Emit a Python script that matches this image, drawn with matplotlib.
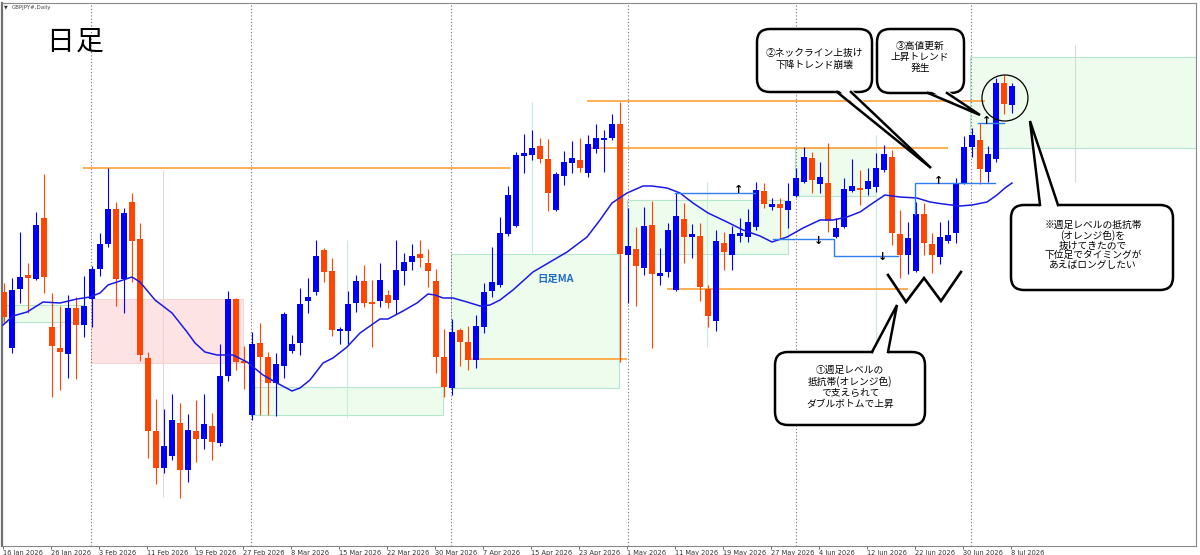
import matplotlib
matplotlib.use('Agg')
import matplotlib.pyplot as plt
import matplotlib.transforms as mtransforms
from matplotlib.patches import Rectangle, FancyBboxPatch, Polygon, Ellipse

plt.rcParams['font.family'] = ['Noto Sans CJK JP', 'DejaVu Sans']

# GBPJPY daily candles
tick_labels = ['16 Jan 2026', '26 Jan 2026', '3 Feb 2026', '11 Feb 2026', '19 Feb 2026',
               '27 Feb 2026', '8 Mar 2026', '15 Mar 2026', '22 Mar 2026', '30 Mar 2026',
               '7 Apr 2026', '15 Apr 2026', '23 Apr 2026', '1 May 2026', '11 May 2026',
               '19 May 2026', '27 May 2026', '4 Jun 2026', '12 Jun 2026', '22 Jun 2026',
               '30 Jun 2026', '8 Jul 2026']

opens = [207.08, 206.52, 207.11, 207.25, 207.21, 207.82, 206.73, 206.52, 206.46, 206.92,
         206.75, 207.01, 207.31, 207.56, 207.91, 207.21, 207.98, 207.61, 206.42, 205.69,
         205.32, 205.44, 205.77, 205.30, 205.69, 205.61, 205.74, 205.57, 206.24, 207.01,
         206.38, 205.85, 206.57, 206.43, 206.17, 206.34, 206.49, 206.57, 206.99, 207.08,
         207.50, 207.29, 206.69, 206.69, 206.97, 207.19, 206.98, 206.99, 207.05, 207.00,
         207.29, 207.38, 207.46, 207.37, 207.19, 206.43, 206.12, 206.70, 206.58, 206.40,
         206.73, 207.09, 207.15, 207.66, 207.74, 208.44, 208.45, 208.54, 208.41, 207.90,
         208.24, 208.37, 208.40, 208.27, 208.51, 208.60, 208.62, 208.76, 207.45, 207.51,
         207.32, 207.75, 207.24, 207.28, 207.10, 207.81, 207.63, 207.64, 207.11, 206.79,
         207.57, 207.45, 207.64, 207.63, 207.73, 208.09, 207.93, 207.96, 207.90, 208.04,
         208.18, 208.42, 208.16, 208.17, 207.63, 207.73, 208.09, 208.12, 208.11, 208.13,
         208.30, 208.43, 207.66, 207.45, 207.29, 207.86, 207.56, 207.43, 207.59, 207.67,
         208.17, 208.53, 208.60, 208.28, 208.41, 209.17, 208.95]
highs = [207.17, 207.22, 207.68, 207.37, 207.88, 208.26, 207.07, 206.94, 207.05, 207.03,
         207.24, 207.34, 207.67, 208.32, 207.98, 207.92, 208.07, 207.77, 206.48, 206.01,
         205.91, 206.06, 205.97, 205.86, 206.00, 206.06, 205.87, 206.56, 207.09, 207.02,
         206.54, 206.68, 206.77, 206.48, 206.47, 206.88, 206.65, 207.12, 207.22, 207.60,
         207.52, 207.42, 206.73, 207.09, 207.25, 207.35, 207.20, 207.37, 207.10, 207.60,
         207.47, 207.56, 207.60, 207.51, 207.31, 206.71, 206.81, 206.72, 206.74, 206.85,
         207.17, 207.53, 207.83, 208.14, 208.48, 208.66, 208.70, 208.62, 208.61, 208.28,
         208.49, 208.59, 208.62, 208.65, 208.76, 208.70, 208.86, 208.98, 207.92, 207.73,
         207.93, 207.99, 207.52, 207.77, 208.07, 207.97, 207.76, 207.77, 207.15, 207.70,
         207.68, 207.74, 207.82, 207.91, 208.18, 208.17, 208.02, 208.02, 208.17, 208.32,
         208.53, 208.48, 208.38, 208.57, 207.82, 208.22, 208.41, 208.30, 208.32, 208.47,
         208.55, 208.50, 207.90, 207.78, 207.98, 207.97, 207.67, 207.78, 207.80, 208.22,
         208.64, 208.72, 208.77, 208.54, 209.22, 209.25, 209.17]
lows = [206.78, 206.47, 206.97, 206.87, 207.20, 207.07, 206.03, 206.10, 206.22, 206.21,
        206.63, 206.73, 207.24, 207.53, 206.94, 206.87, 207.18, 206.39, 205.42, 205.16,
        205.27, 205.40, 205.02, 205.18, 205.38, 205.51, 205.40, 205.54, 206.19, 206.30,
        206.11, 205.80, 205.85, 205.85, 205.84, 206.22, 206.47, 206.45, 206.87, 207.05,
        207.18, 206.64, 206.56, 206.56, 206.88, 206.93, 206.53, 206.93, 206.92, 206.86,
        207.15, 207.30, 207.33, 207.13, 206.27, 206.03, 206.05, 206.34, 206.30, 206.32,
        206.67, 207.03, 207.13, 207.64, 207.73, 208.27, 208.40, 208.37, 207.89, 207.89,
        208.15, 208.27, 208.28, 208.23, 208.47, 208.28, 208.60, 206.38, 206.97, 206.94,
        207.25, 206.52, 207.15, 207.23, 207.09, 207.37, 207.42, 206.99, 206.73, 206.69,
        207.30, 207.30, 207.58, 207.58, 207.70, 207.92, 207.90, 207.61, 207.72, 208.03,
        208.17, 208.07, 208.07, 207.68, 207.62, 207.72, 208.08, 207.95, 208.05, 208.08,
        208.28, 207.55, 207.22, 207.26, 207.28, 207.45, 207.27, 207.36, 207.57, 207.57,
        208.16, 208.43, 208.16, 208.18, 208.38, 208.86, 208.87]
closes = [206.83, 207.10, 207.23, 207.22, 207.75, 207.23, 206.54, 206.48, 206.92, 206.75,
          206.94, 207.31, 207.56, 207.91, 207.21, 207.87, 207.59, 206.45, 205.69, 205.32,
          205.54, 205.80, 205.30, 205.70, 205.61, 205.76, 205.58, 206.24, 207.01, 206.38,
          206.37, 206.56, 206.43, 206.17, 206.36, 206.86, 206.56, 206.96, 207.03, 207.44,
          207.28, 206.70, 206.71, 206.96, 207.19, 206.97, 206.96, 207.20, 206.97, 207.30,
          207.38, 207.44, 207.42, 207.29, 206.43, 206.13, 206.68, 206.58, 206.40, 206.74,
          207.08, 207.18, 207.67, 208.05, 208.45, 208.47, 208.52, 208.41, 208.07, 208.26,
          208.38, 208.42, 208.32, 208.56, 208.62, 208.62, 208.76, 207.46, 207.54, 207.34,
          207.74, 207.26, 207.27, 207.70, 207.84, 207.63, 207.66, 207.13, 206.84, 207.59,
          207.48, 207.66, 207.67, 207.78, 208.10, 207.96, 207.96, 207.92, 207.99, 208.22,
          208.43, 208.20, 208.23, 207.79, 207.72, 208.11, 208.14, 208.10, 208.19, 208.32,
          208.46, 207.67, 207.45, 207.62, 207.86, 207.57, 207.45, 207.63, 207.65, 208.17,
          208.53, 208.65, 208.31, 208.46, 209.17, 208.96, 209.14]

# daily moving average, read at points along the line (bar position, price)
ma_pos = [-0.12, 1.12, 2.88, 4.88, 7.0, 9.12, 10.75, 12.0, 13.0, 14.88, 16.0, 17.0, 18.88,
          21.0, 22.88, 23.88, 25.12, 26.62, 28.62, 30.38, 32.38, 34.12, 36.0, 37.0, 38.25,
          39.88, 41.12, 42.88, 44.5, 47.0, 48.0, 49.88, 51.62, 53.0, 53.88, 54.88, 56.12,
          57.88, 59.5, 60.75, 62.0, 63.62, 66.12, 68.25, 70.38, 72.88, 74.5, 76.0, 77.88,
          79.88, 81.0, 82.88, 84.5, 86.12, 88.0, 90.38, 92.38, 94.5, 96.0, 97.88, 99.88,
          102.0, 103.62, 105.38, 107.0, 108.62, 110.12, 112.0, 114.12, 115.75, 117.38,
          119.5, 121.0, 122.88, 124.12, 125.12, 126.0]
ma_val = [206.75, 206.84, 206.88, 206.98, 206.97, 207.01, 207.03, 207.07, 207.15, 207.20,
          207.23, 207.18, 207.00, 206.87, 206.68, 206.57, 206.48, 206.45, 206.45, 206.38,
          206.25, 206.17, 206.09, 206.12, 206.20, 206.37, 206.42, 206.53, 206.67, 206.81,
          206.81, 206.89, 206.97, 207.06, 207.05, 207.02, 207.02, 206.98, 206.94, 206.95,
          207.00, 207.10, 207.28, 207.38, 207.48, 207.63, 207.80, 207.97, 208.07, 208.14,
          208.14, 208.12, 208.07, 207.97, 207.87, 207.78, 207.70, 207.64, 207.58, 207.63,
          207.72, 207.80, 207.80, 207.83, 207.88, 207.97, 208.05, 208.03, 208.02, 207.98,
          207.96, 207.94, 207.95, 207.98, 208.05, 208.12, 208.17]

# drawn objects on the chart
month_seps = [10.88, 30.88, 55.88, 78.0, 99.0, 120.88]
orange_level = [208.32, 208.99, 208.52, 206.41, 207.11]
orange_from = [9.88, 72.88, 73.0, 58.0, 82.9]
orange_to = [63.25, 122.6, 118.0, 77.9, 113.0]
green_x0 = [-0.12, 30.88, 55.88, 77.88, 98.88, 120.75]
green_x1 = [9.88, 54.88, 76.88, 98.0, 109.0, 149.0]
green_lo = [206.78, 205.85, 206.12, 207.46, 208.04, 208.52]
green_hi = [206.95, 206.13, 207.46, 208.00, 208.52, 209.43]
pink_zone = [10.88, 29.88, 206.37, 207.01]
faint_x = [19.88, 42.88, 66.0, 87.88, 109.0, 133.88]
faint_lo = [205.03, 205.82, 207.47, 206.53, 206.55, 208.18]
faint_hi = [208.30, 207.60, 208.98, 208.18, 208.65, 209.55]
faint_col = ['#f6d0d0', '#c8ecd8', '#c8ecd8', '#c8ecd8', '#c8ecd8', '#d8d8d8']
blue_x = [[83.88, 93.88], [96.12, 103.75, 103.75, 111.75], [113.88, 113.88, 123.88], [121.75, 125.0]]
blue_y = [[208.07, 208.07], [207.61, 207.61, 207.44, 207.44], [207.86, 208.17, 208.17], [208.77, 208.77]]
arrow_x = [91.88, 116.88, 122.88, 101.88, 109.88]
arrow_y = [208.10, 208.19, 208.79, 207.59, 207.43]
arrow_s = ['↑', '↑', '↑', '↓', '↓']
w_x = [110.5, 112.75, 115.0, 117.12, 119.62]
w_y = [207.25, 206.98, 207.22, 206.99, 207.28]

fig = plt.figure(figsize=(12, 5.55), dpi=100)
ax = fig.add_axes([2 / 1200, 9 / 555, 1194 / 1200, 543 / 555])
ax.set_xlim(-0.25, 149.0)
ax.set_ylim(204.54, 209.97)

# zones
for x0, x1, lo, hi in zip(green_x0, green_x1, green_lo, green_hi):
    ax.add_patch(Rectangle((x0, lo), x1 - x0, hi - lo, fc='#eefcee', ec='#b4e6cc', lw=0.8, zorder=1))
px0, px1, plo, phi = pink_zone
ax.add_patch(Rectangle((px0, plo), px1 - px0, phi - plo, fc='#fde3e3', ec='#f8d0d0', lw=0.6, zorder=1))

for x, lo, hi, c in zip(faint_x, faint_lo, faint_hi, faint_col):
    ax.vlines(x, lo, hi, color=c, lw=0.8, zorder=1.5)

for x in month_seps:
    ax.axvline(x, color='#707070', lw=0.8, ls=(0, (1, 2)), zorder=1.6)

for lev, a, b in zip(orange_level, orange_from, orange_to):
    ax.hlines(lev, a, b, color='#ffa033', lw=1.2, zorder=2)

# candles
for i in range(len(opens)):
    o, h, l, c = opens[i], highs[i], lows[i], closes[i]
    col = '#0000ff' if c >= o else '#ff4500'
    ax.vlines(i, l, h, color=col, lw=0.8, zorder=3)
    ax.bar(i, max(abs(c - o), 0.02), bottom=min(o, c), width=0.72, color=col, lw=0, zorder=3)

ax.plot(ma_pos, ma_val, color='#1a1ae6', lw=1.1, zorder=4)

for xs, ys in zip(blue_x, blue_y):
    ax.plot(xs, ys, color='#2f7ff0', lw=1.0, zorder=4)
for x, y, s in zip(arrow_x, arrow_y, arrow_s):
    ax.text(x, y, s, ha='center', va='center', fontsize=8, family=['DejaVu Sans'],
            fontweight='bold', zorder=5)

ax.plot(w_x, w_y, color='black', lw=1.9, solid_joinstyle='miter', zorder=5)
ax.add_patch(Ellipse((125.12, 209.02), 5.75, 0.46, fill=False, ec='black', lw=0.9, zorder=5))

ax.text(69.0, 207.21, '日足MA', color='#1e6ec8', fontsize=7.5, fontweight='bold',
        ha='center', va='center', zorder=5)

# axes styling like the terminal
ax.set_yticks([])
ax.set_xticks([6 * k - 0.12 for k in range(len(tick_labels))])
ax.set_xticklabels(tick_labels, fontsize=4.8, color='#333333', family=['DejaVu Sans'])
for lbl in ax.get_xticklabels():
    lbl.set_ha('left')
ax.tick_params(axis='x', length=2.2, width=0.6, color='#555555', pad=0.6)
for side in ['top', 'right', 'bottom']:
    ax.spines[side].set_color('#888888')
    ax.spines[side].set_linewidth(0.8)
ax.spines['left'].set_color('#707070')
ax.spines['left'].set_linewidth(1.6)

# pixel based transform for callouts (origin top-left)
px = mtransforms.Affine2D().scale(1 / 1200, -1 / 555).translate(0, 1) + fig.transFigure

ax.text(6, 7, '▼', transform=px, fontsize=3.5, color='#333333', va='center', ha='center',
        family=['DejaVu Sans'])
ax.text(12, 7, 'GBPJPY#,Daily', transform=px, fontsize=4, color='#444444', va='center',
        family=['DejaVu Sans'])
ax.text(46, 42, '日', transform=px, fontsize=20, color='black', va='center', ha='left')
ax.text(76, 42, '足', transform=px, fontsize=20, color='black', va='center', ha='left')


def bubble(box, base1, base2, tip, text, cx, cy, fs, ls):
    x0, y0, x1, y1 = box
    ax.add_patch(FancyBboxPatch((x0, y0), x1 - x0, y1 - y0,
                                boxstyle='round,pad=0,rounding_size=13', transform=px,
                                fc='white', ec='black', lw=1.8, zorder=6, clip_on=False))
    inward = 3 if base1[1] == y1 else -3
    b1 = (base1[0], base1[1] - inward)
    b2 = (base2[0], base2[1] - inward)
    ax.add_patch(Polygon([b1, tip, b2], closed=True, transform=px, fc='white', ec='none',
                         zorder=6.5, clip_on=False))
    ax.plot([base1[0], tip[0], base2[0]], [base1[1], tip[1], base2[1]], transform=px,
            color='black', lw=1.8, zorder=6.6, clip_on=False, solid_joinstyle='miter')
    ax.text(cx, cy, text, transform=px, ha='center', va='center', fontsize=fs,
            linespacing=ls, zorder=7)


bubble((757, 29, 872, 92), (837, 92), (851, 92), (931, 168),
       '②ネックライン上抜け\n下降トレンド崩壊', 814, 59, 7, 1.15)
bubble((877, 29, 964, 93), (928, 93), (947, 93), (980, 115),
       '③高値更新\n上昇トレンド\n発生', 920, 57, 7, 1.1)
bubble((1011, 205, 1173, 290), (1040, 205), (1058, 205), (1030, 121),
       '※週足レベルの抵抗帯\n(オレンジ色)を\n抜けてきたので\n下位足でタイミングが\nあえばロングしたい',
       1093, 245, 7, 0.98)
bubble((775, 352, 925, 425), (872, 352), (888, 352), (897, 305),
       '①週足レベルの\n抵抗帯(オレンジ色)\nで支えられて\nダブルボトムで上昇', 850, 387, 7, 1.1)

fig.savefig('out.png', dpi=100)
plt.close(fig)
